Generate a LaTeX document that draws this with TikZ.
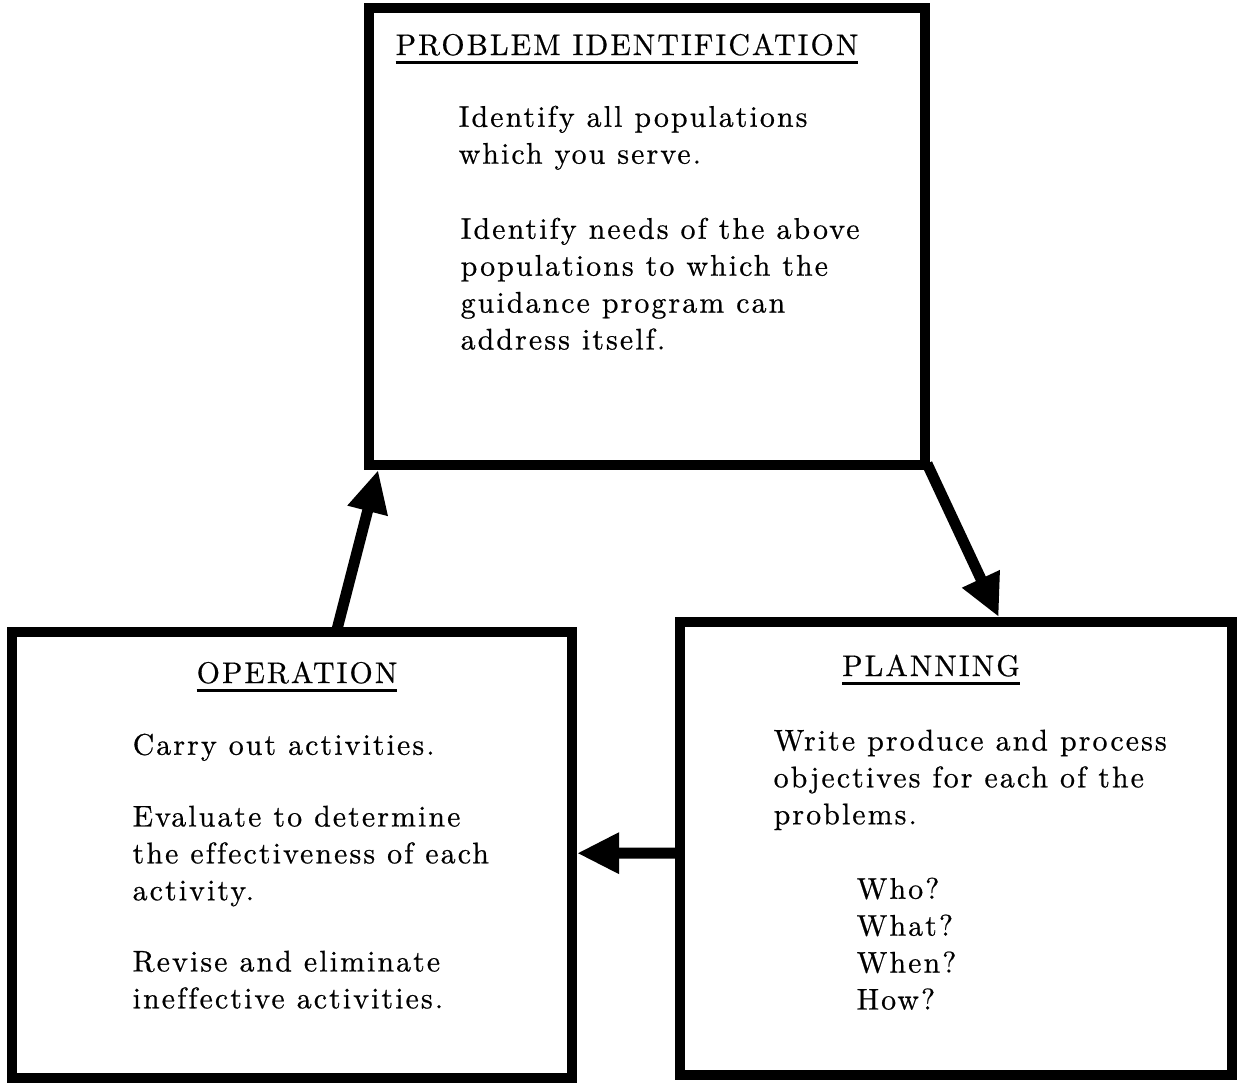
\documentclass[tikz,border=0pt]{standalone}
\usepackage{fontspec}
\usetikzlibrary{arrows.meta,calc,positioning}
\newfontfamily\typefont{lmroman10-regular.otf}[LetterSpace=7,Ligatures=NoCommon,FakeBold=0.6]
\newcommand{\myunit}{1 cm}
\newcommand{\boxfont}{\typefont\fontsize{8.5pt}{10.5pt}\selectfont}
\newcommand{\headline}[1]{\leavevmode\vtop{\hbox{#1}\kern1.5pt\hrule height 0.9pt}}
\tikzset{
    boxsty/.style={draw,line width=2.85pt,rectangle,anchor=north west},
    headsty/.style={anchor=base,inner sep=0pt,font=\boxfont},
    parsty/.style={anchor=north west,align=left,inner sep=0pt,font=\boxfont},
    arrsty/.style={line width=3.1pt,shorten <=-2pt,-{Triangle[length=12pt,width=11pt]}},
}

\begin{document}
\begin{tikzpicture}
\useasboundingbox (0,0) rectangle (12.44*\myunit, -10.84*\myunit);

% the three boxes
\node (probid) [boxsty, minimum width=5.56*\myunit, minimum height=4.57*\myunit] at (3.64*\myunit, -0.03*\myunit) {};
\node (oper) [boxsty, minimum width=5.60*\myunit, minimum height=4.46*\myunit] at (0.07*\myunit, -6.27*\myunit) {};
\node (plan) [boxsty, minimum width=5.52*\myunit, minimum height=4.53*\myunit] at (6.75*\myunit, -6.17*\myunit) {};

% problem identification
\node (probidh) [headsty] at (6.27*\myunit, -0.55*\myunit) {\headline{PROBLEM IDENTIFICATION}};
\node (probidp1) [parsty] at (4.58*\myunit, -1.05*\myunit) {Identify all populations\\which you serve.};
\node (probidp2) [parsty] at (4.60*\myunit, -2.17*\myunit) {Identify needs of the above\\populations to which the\\guidance program can\\address itself.};

% operation
\node (operh) [headsty] at (2.97*\myunit, -6.83*\myunit) {\headline{OPERATION}};
\node (operp1) [parsty] at (1.32*\myunit, -7.33*\myunit) {Carry out activities.};
\node (operp2) [parsty] at (1.32*\myunit, -8.05*\myunit) {Evaluate to determine\\the effectiveness of each\\activity.};
\node (operp3) [parsty] at (1.32*\myunit, -9.50*\myunit) {Revise and eliminate\\ineffective activities.};

% planning
\node (planh) [headsty] at (9.31*\myunit, -6.76*\myunit) {\headline{PLANNING}};
\node (planp1) [parsty] at (7.73*\myunit, -7.29*\myunit) {Write produce and process\\objectives for each of the\\problems.};
\node (planp2) [parsty] at (8.56*\myunit, -8.77*\myunit) {Who?\\What?\\When?\\How?};

% the cycle
\draw [arrsty] ($(oper.north west)!0.58!(oper.north east)$) -- ($(probid.south west)!0.025!(probid.south east)$);
\draw [arrsty] (probid.south east) -- ($(plan.north west)!0.576!(plan.north east)$);
\draw [arrsty] ($(plan.north west)!0.51!(plan.south west)$) -- ($(oper.north east)!0.496!(oper.south east)$);

\end{tikzpicture}
\end{document}
